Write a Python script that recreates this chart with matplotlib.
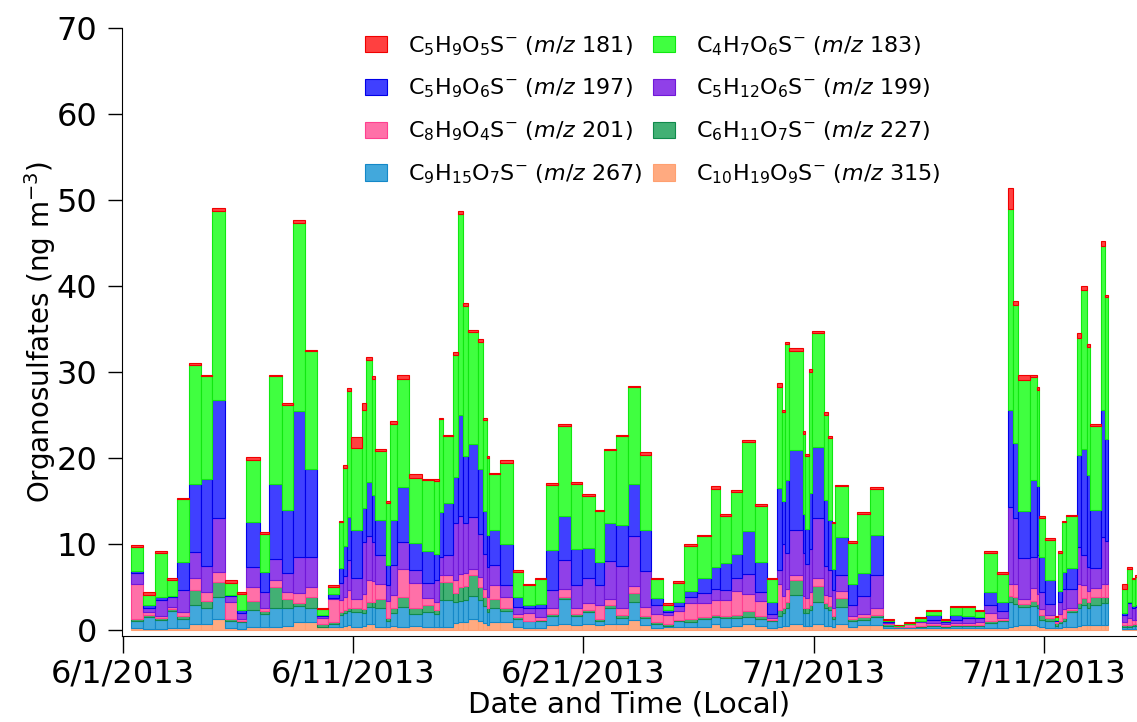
import numpy as np
import pandas as pd
import matplotlib
matplotlib.use("Agg")
import matplotlib.pyplot as plt
import matplotlib.dates as mdates
from matplotlib.ticker import FuncFormatter

nan = np.nan

# sample boundaries (local time, 2013); sample i runs from edge i to edge i+1
sample_edges = [
    "06-01 08:20", "06-01 20:50", "06-02 09:20", "06-02 21:50", "06-03 08:15", "06-03 20:45", "06-04 09:15", "06-04 20:45", "06-05 10:15", "06-05 22:45",
    "06-06 08:10", "06-06 22:45", "06-07 08:10", "06-07 21:40", "06-08 09:10", "06-08 21:40", "06-09 10:10", "06-09 21:40", "06-10 09:10", "06-10 13:15",
    "06-10 17:25", "06-10 21:35", "06-11 09:00", "06-11 13:10", "06-11 19:30", "06-11 22:35", "06-12 10:00", "06-12 14:10", "06-12 21:30", "06-13 10:00",
    "06-13 23:35", "06-14 12:05", "06-14 17:20", "06-14 21:25", "06-15 07:55", "06-15 13:05", "06-15 18:20", "06-15 23:30", "06-16 09:55", "06-16 15:05",
    "06-16 19:20", "06-16 21:25", "06-17 08:50", "06-17 22:25", "06-18 08:50", "06-18 21:20", "06-19 08:50", "06-19 21:20", "06-20 10:50", "06-20 22:20",
    "06-21 11:50", "06-21 21:10", "06-22 09:40", "06-22 22:10", "06-23 10:40", "06-23 22:10", "06-24 10:40", "06-24 21:05", "06-25 08:35", "06-25 22:05",
    "06-26 12:40", "06-26 22:05", "06-27 09:30", "06-27 21:00", "06-28 10:30", "06-28 23:00", "06-29 09:30", "06-29 14:40", "06-29 17:50", "06-29 22:00",
    "06-30 12:35", "06-30 14:40", "06-30 18:50", "06-30 22:00", "07-01 10:30", "07-01 14:40", "07-01 18:50", "07-01 21:55", "07-02 11:30", "07-02 20:50",
    "07-03 10:25", "07-03 23:55", "07-04 11:25", "07-04 21:50", "07-05 09:15", "07-05 20:45", "07-06 12:25", "07-06 21:45", "07-07 10:15", "07-07 23:45",
    "07-08 09:10", "07-08 22:40", "07-09 10:10", "07-09 15:25", "07-09 20:35", "07-10 09:05", "07-10 16:25", "07-10 18:30", "07-11 00:45", "07-11 11:10",
    "07-11 14:15", "07-11 18:25", "07-11 22:35", "07-12 10:05", "07-12 14:15", "07-12 20:30", "07-12 23:35", "07-13 11:05", "07-13 15:15", "07-13 18:25",
    "07-14 09:00", "07-14 14:10", "07-14 19:25", "07-14 22:30", "07-15 03:40",
]

# concentrations, ng m-3, one value per sample (nan = no data)
mz315 = [0.2, 0.1, 0.1, 0.2, 0.2, 0.75, 0.75, 1.3, 0.2, 0.1,
         0.4, 0.3, 0.4, 0.5, 0.95, 0.95, 0.3, 0.35, 0.4, 0.5,
         0.6, 0.4, 0.5, 0.7, 0.7, 0.4, 0.3, 0.5, 0.4, 0.45,
         0.4, 0.4, 0.4, 0.4, 0.8, 0.9, 0.9, 1.3, 1.0, 0.8,
         0.6, 0.95, 0.95, 0.3, 0.2, 0.2, 0.6, 0.75, 0.6, 0.75,
         0.6, 0.75, 0.75, 1.15, 0.6, 0.2, 0.4, 0.3, 0.35, 0.4,
         0.7, 0.4, 0.5, 0.75, 0.5, 0.2, 0.3, 0.5, 0.5, 0.65,
         0.5, 0.5, 0.5, 0.65, 0.5, 0.5, 0.3, 0.65, 0.4, 0.6,
         0.6, 0.2, 0.2, 0.2, 0.2, 0.2, 0.2, 0.2, 0.2, 0.2,
         0.25, 0.2, 0.4, 0.5, 0.6, 0.6, 0.5, 0.4, 0.25, 0.2,
         0.2, 0.3, 0.35, 0.5, 0.6, 0.6, 0.55, 0.6, 0.6, nan,
         0.1, 0.1, 0.1, 0.1]
mz267 = [0.8, 1.4, 1.1, 2.0, 1.1, 2.15, 1.75, 2.5, 0.8, 0.8,
         1.9, 1.6, 2.1, 2.1, 1.8, 1.65, 0.05, 0.3, 1.4, 1.5,
         1.6, 1.7, 1.5, 2.0, 2.0, 2.1, 0.8, 1.5, 2.3, 1.45,
         1.7, 1.5, 3.05, 3.05, 2.5, 2.5, 2.6, 2.7, 2.5, 2.0,
         1.5, 1.55, 1.25, 1.0, 0.8, 0.8, 1.05, 2.8, 1.05, 1.3,
         0.4, 1.85, 0.7, 2.05, 0.8, 0.5, 0.1, 0.7, 0.6, 0.85,
         0.8, 0.95, 0.9, 0.8, 0.8, 0.8, 1.3, 1.5, 2.0, 3.4,
         1.5, 1.5, 1.8, 2.65, 2.0, 1.8, 1.0, 2.05, 0.7, 0.6,
         0.9, 0.3, 0.1, 0.1, 0.2, 0.3, 0.2, 0.3, 0.3, 0.3,
         0.6, 0.8, 2.9, 2.5, 2.1, 2.2, 2.0, 0.8, 0.8, 0.3,
         0.6, 0.8, 1.7, 2.0, 2.3, 2.0, 2.35, 2.5, 2.5, nan,
         0.3, 0.3, 0.4, 0.4]
mz227 = [0.3, 0.3, 0.15, 0.2, 0.35, 1.8, 0.85, 1.8, 0.25, 0.2,
         1.05, 0.3, 2.5, 1.05, 0.35, 1.25, 0.4, 0.3, 0.3, 0.3,
         0.4, 0.4, 0.4, 0.5, 0.5, 1.15, 0.3, 0.5, 1.15, 0.6,
         0.8, 0.4, 2.15, 2.15, 1.0, 1.6, 1.6, 2.4, 1.5, 1.0,
         0.5, 1.15, 0.3, 0.25, 0.1, 0.2, 0.25, 0.3, 0.25, 0.25,
         0.3, 0.3, 0.25, 1.05, 0.25, 0.25, 0.2, 0.2, 0.3, 0.3,
         0.3, 0.3, 0.3, 0.7, 0.3, 0.2, 0.7, 0.5, 0.8, 1.75,
         0.5, 0.5, 0.6, 1.85, 0.6, 0.5, 0.3, 1.05, 0.2, 0.3,
         0.3, 0.2, 0.1, 0.1, 0.1, 0.1, 0.1, 0.1, 0.1, 0.1,
         0.2, 0.2, 0.7, 0.8, 0.3, 0.6, 0.5, 0.6, 0.4, 0.3,
         0.3, 0.3, 0.3, 0.6, 0.8, 0.6, 0.95, 0.7, 0.7, nan,
         0.15, 0.2, 0.2, 0.2]
mz201 = [4.0, 0.3, 0.3, 0.3, 0.45, 1.3, 1.1, 1.2, 2.05, 0.2,
         1.65, 0.4, 0.8, 0.8, 1.15, 1.15, 0.7, 2.7, 1.4, 1.5,
         2.0, 1.15, 1.8, 2.6, 2.5, 1.75, 2.0, 1.6, 3.25, 3.0,
         0.85, 1.0, 0.8, 0.8, 1.5, 1.5, 1.5, 0.75, 1.2, 1.0,
         1.2, 1.55, 1.35, 0.35, 0.9, 0.3, 0.6, 0.9, 0.6, 0.8,
         1.6, 0.75, 0.8, 0.9, 1.05, 0.95, 1.1, 1.05, 1.85, 1.55,
         1.65, 1.8, 2.8, 1.9, 1.8, 0.2, 3.0, 1.5, 1.5, 0.6,
         1.5, 1.2, 1.5, 0.85, 1.0, 1.2, 1.0, 0.75, 0.35, 0.4,
         0.8, 0.1, 0.05, 0.3, 0.4, 0.2, 0.2, 0.2, 0.2, 0.3,
         0.95, 0.2, 1.3, 1.5, 0.55, 1.5, 1.2, 0.6, 0.35, 0.2,
         0.8, 1.0, 0.15, 2.3, 1.5, 1.3, 1.05, 1.5, 1.5, nan,
         0.4, 0.8, 0.5, 0.5]
mz199 = [1.3, 0.5, 1.85, 1.1, 2.5, 3.1, 2.95, 6.2, 0.6, 0.7,
         2.35, 1.85, 2.4, 2.15, 4.25, 3.5, 0.15, 0.1, 2.0, 2.5,
         3.5, 2.35, 6.0, 5.1, 4.5, 3.3, 1.8, 3.5, 3.1, 1.5,
         1.75, 2.5, 2.1, 2.3, 6.6, 6.8, 5.8, 5.95, 5.0, 4.0,
         3.5, 2.3, 1.35, 0.8, 0.55, 1.1, 2.1, 3.35, 2.7, 2.9,
         2.3, 4.35, 4.95, 5.8, 4.2, 1.0, 0.3, 0.55, 0.7, 1.2,
         1.3, 1.15, 1.5, 2.4, 1.0, 0.5, 1.7, 6.0, 4.1, 5.2,
         5.0, 4.0, 5.0, 7.05, 3.3, 3.0, 2.0, 1.9, 1.25, 2.05,
         3.85, 0.15, 0.0, 0.05, 0.1, 0.4, 0.25, 0.4, 0.6, 0.5,
         0.9, 0.8, 9.0, 7.7, 4.85, 3.6, 4.5, 2.0, 1.2, 0.1,
         1.3, 2.4, 2.3, 4.3, 3.5, 2.85, 2.3, 5.55, 5.0, nan,
         0.85, 1.7, 1.4, 1.5]
mz197 = [0.3, 0.3, 0.3, 0.2, 3.3, 7.9, 10.2, 13.7, 0.2, 0.3,
         5.15, 2.25, 8.8, 7.3, 17.0, 10.2, 0.2, 0.45, 1.7, 3.5,
         5.0, 5.6, 4.0, 6.3, 5.5, 4.1, 2.4, 5.2, 6.4, 3.1,
         3.7, 3.0, 5.2, 6.1, 5.4, 11.7, 7.8, 8.5, 7.5, 5.0,
         3.8, 4.1, 4.8, 1.15, 0.35, 0.4, 4.7, 5.2, 4.2, 3.55,
         2.7, 4.4, 4.75, 6.05, 4.7, 0.85, 0.2, 0.5, 0.7, 1.8,
         2.6, 3.15, 2.8, 5.0, 3.5, 1.3, 9.5, 5.0, 8.5, 9.3,
         4.5, 4.0, 6.5, 8.25, 7.7, 5.8, 2.5, 4.45, 2.5, 2.65,
         4.55, 0.05, 0.0, 0.0, 0.05, 0.5, 0.05, 0.5, 0.2, 0.1,
         1.55, 1.1, 11.3, 8.8, 5.4, 8.9, 8.1, 4.05, 2.8, 0.1,
         1.3, 2.0, 2.4, 10.6, 12.4, 10.65, 6.7, 14.75, 11.9, nan,
         0.2, 0.2, 0.2, 0.2]
mz183 = [2.8, 1.2, 5.2, 1.8, 7.3, 13.8, 11.9, 22.0, 1.4, 1.9,
         7.3, 4.5, 12.5, 12.3, 21.8, 13.7, 0.6, 0.8, 5.3, 9.0,
         14.7, 9.6, 11.4, 14.2, 13.5, 8.0, 7.2, 11.2, 12.6, 7.6,
         8.2, 8.5, 10.8, 7.7, 14.2, 23.4, 17.5, 13.0, 14.8, 10.6,
         8.9, 6.5, 9.4, 2.95, 2.3, 2.9, 7.6, 10.4, 7.6, 6.05,
         5.9, 8.5, 10.3, 11.2, 8.8, 2.15, 0.6, 2.2, 5.3, 4.8,
         9.1, 5.55, 7.3, 10.3, 6.5, 2.7, 11.7, 10.3, 15.8, 11.6,
         9.3, 8.5, 14.1, 13.2, 9.9, 9.5, 5.3, 5.85, 4.7, 6.9,
         5.4, 0.2, 0.1, 0.05, 0.35, 0.5, 0.2, 1.0, 1.1, 0.7,
         4.5, 3.2, 23.3, 16.0, 15.3, 12.0, 11.1, 4.6, 4.7, 0.3,
         4.5, 5.7, 6.0, 13.7, 18.4, 14.9, 9.8, 19.1, 16.5, nan,
         2.8, 3.8, 3.1, 3.3]
mz181 = [0.2, 0.3, 0.2, 0.2, 0.2, 0.2, 0.2, 0.4, 0.3, 0.2,
         0.3, 0.2, 0.2, 0.2, 0.4, 0.2, 0.1, 0.2, 0.2, 0.4,
         0.3, 1.2, 0.8, 0.3, 0.3, 0.2, 0.2, 0.3, 0.4, 0.4,
         0.2, 0.2, 0.2, 0.2, 0.3, 0.3, 0.3, 0.3, 0.3, 0.3,
         0.2, 0.2, 0.4, 0.2, 0.2, 0.2, 0.2, 0.2, 0.2, 0.2,
         0.2, 0.2, 0.2, 0.2, 0.3, 0.2, 0.2, 0.2, 0.2, 0.2,
         0.35, 0.2, 0.2, 0.3, 0.2, 0.2, 0.5, 0.3, 0.3, 0.3,
         0.3, 0.3, 0.3, 0.3, 0.3, 0.3, 0.2, 0.2, 0.2, 0.2,
         0.2, 0.1, 0.05, 0.1, 0.1, 0.1, 0.1, 0.1, 0.1, 0.1,
         0.2, 0.2, 2.5, 0.5, 0.5, 0.3, 0.3, 0.25, 0.2, 0.1,
         0.2, 0.2, 0.2, 0.5, 0.5, 0.3, 0.3, 0.5, 0.3, nan,
         0.5, 0.2, 0.2, 0.2]

# stacking order, bottom to top
species = [
    (mz315, r"C$_{10}$H$_{19}$O$_9$S$^{-}$ ($m/z$ 315)", "#ffaa80", "#ffa070"),
    (mz267, r"C$_9$H$_{15}$O$_7$S$^{-}$ ($m/z$ 267)", "#42a8dc", "#1488c8"),
    (mz227, r"C$_6$H$_{11}$O$_7$S$^{-}$ ($m/z$ 227)", "#42b074", "#108a4c"),
    (mz201, r"C$_8$H$_9$O$_4$S$^{-}$ ($m/z$ 201)", "#ff70a8", "#ff4090"),
    (mz199, r"C$_5$H$_{12}$O$_6$S$^{-}$ ($m/z$ 199)", "#9040e8", "#7018d8"),
    (mz197, r"C$_5$H$_9$O$_6$S$^{-}$ ($m/z$ 197)", "#4040ff", "#0000e8"),
    (mz183, r"C$_4$H$_7$O$_6$S$^{-}$ ($m/z$ 183)", "#40ff40", "#10e810"),
    (mz181, r"C$_5$H$_9$O$_5$S$^{-}$ ($m/z$ 181)", "#ff4040", "#f00000"),
]

edges = mdates.date2num(pd.to_datetime(["2013-" + s for s in sample_edges]))
starts = edges[:-1]
widths = np.diff(edges)

plt.rcParams["font.family"] = ["DejaVu Sans"]
fig = plt.figure(figsize=(11.37, 7.22), dpi=100)
ax = fig.add_axes([0.1073, 0.1191, 0.8927, 0.8421])

bottom = np.zeros(len(starts))
handles = {}
for vals, label, fill, edge in species:
    v = np.array(vals, dtype=float)
    h = ax.bar(starts, v, width=widths, bottom=bottom, align="edge",
               color=fill, edgecolor=edge, linewidth=0.8, label=label)
    handles[label] = h
    bottom = bottom + np.nan_to_num(v)

ax.set_ylim(-0.7, 70)
ax.set_xlim(mdates.date2num(pd.Timestamp("2013-05-31 23:00")),
            mdates.date2num(pd.Timestamp("2013-07-15 01:00")))
ax.set_yticks(range(0, 71, 10))
tick_days = pd.to_datetime(["2013-06-01", "2013-06-11", "2013-06-21", "2013-07-01", "2013-07-11"])
ax.set_xticks(mdates.date2num(tick_days))
ax.xaxis.set_major_formatter(FuncFormatter(
    lambda x, pos: "{d.month}/{d.day}/{d.year}".format(d=mdates.num2date(x))))

for s in ["top", "right"]:
    ax.spines[s].set_visible(False)
ax.tick_params(axis="both", labelsize=23, width=1, direction="out")
ax.tick_params(axis="x", length=12, pad=4)
ax.tick_params(axis="y", length=10, pad=8)

ax.set_xlabel("Date and Time (Local)", fontsize=21, labelpad=1)
ax.set_ylabel(r"Organosulfates (ng m$^{-3}$)", fontsize=20, labelpad=-1)

order = [7, 5, 3, 1, 6, 4, 2, 0]
labels = [species[i][1] for i in order]
ax.legend([handles[l] for l in labels], labels, ncol=2, loc="upper left",
          bbox_to_anchor=(0.315, 0.962), bbox_transform=fig.transFigure,
          frameon=False, fontsize=16, handlelength=1.0, handleheight=0.75,
          handletextpad=0.95, columnspacing=0.45, labelspacing=0.86,
          borderpad=0.3, borderaxespad=0)

fig.savefig("out.png", dpi=100)
